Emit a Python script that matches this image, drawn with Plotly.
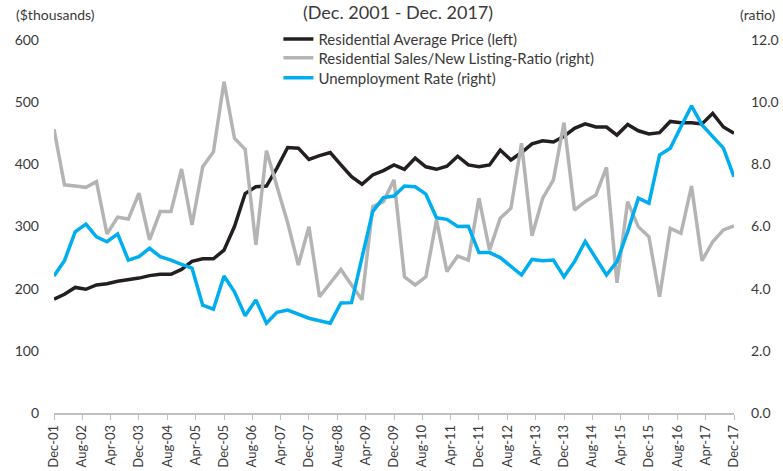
import pandas as pd
import plotly.graph_objects as go

# quarterly observations, Dec-2001 .. Dec-2017
dates = pd.date_range(start="2001-12-01", periods=65, freq="3MS")

avg_price = [183, 191, 202, 199, 206, 208, 212, 214, 217, 221, 223, 223, 231,
             244, 248, 248, 262, 300, 353, 364, 365, 394, 427, 426, 408, 414,
             419, 399, 380, 368, 383, 390, 399, 392, 410, 396, 392, 397, 413,
             399, 396, 399, 423, 407, 419, 433, 438, 436, 445, 458, 465, 460,
             460, 447, 464, 454, 449, 451, 469, 467, 467, 465, 482, 460, 450]

snlr = [9.13, 7.34, 7.30, 7.26, 7.44, 5.76, 6.30, 6.24, 7.07, 5.57, 6.48, 6.48, 7.85,
        6.05, 7.92, 8.40, 10.66, 8.84, 8.48, 5.41, 8.44, 7.30, 6.12, 4.76, 5.99, 3.74,
        4.17, 4.62, 4.12, 3.64, 6.64, 6.80, 7.50, 4.38, 4.12, 4.38, 6.21, 4.55, 5.05,
        4.92, 6.91, 5.24, 6.27, 6.59, 8.68, 5.70, 6.91, 7.50, 9.34, 6.53, 6.80, 7.01,
        7.90, 4.19, 6.80, 5.99, 5.67, 3.74, 5.94, 5.78, 7.30, 4.90, 5.51, 5.89, 6.02]

unemp = [4.41, 4.90, 5.83, 6.08, 5.67, 5.51, 5.76, 4.92, 5.03, 5.30, 5.03, 4.92, 4.78,
         4.66, 3.47, 3.34, 4.41, 3.90, 3.13, 3.64, 2.89, 3.24, 3.31, 3.17, 3.05, 2.97,
         2.89, 3.54, 3.55, 5.00, 6.48, 6.93, 6.98, 7.30, 7.28, 7.04, 6.28, 6.23, 6.00,
         6.01, 5.16, 5.16, 5.00, 4.72, 4.44, 4.94, 4.90, 4.92, 4.38, 4.87, 5.52, 4.98,
         4.44, 4.87, 5.83, 6.91, 6.75, 8.30, 8.52, 9.21, 9.88, 9.27, 8.91, 8.52, 7.60]

FONT = "Lato"
TXT = "#3a3a3a"

fig = go.Figure()
fig.add_trace(go.Scatter(x=dates, y=avg_price, mode="lines", name="Residential Average Price (left)",
                         line=dict(color="#231f20", width=3.5), yaxis="y", legend="legend"))
fig.add_trace(go.Scatter(x=dates, y=snlr, mode="lines", name="Residential Sales/New Listing-Ratio (right)",
                         line=dict(color="#b4b4b4", width=3.5), yaxis="y2", legend="legend2"))
fig.add_trace(go.Scatter(x=dates, y=unemp, mode="lines", name="Unemployment Rate (right)",
                         line=dict(color="#00aeef", width=3.5), yaxis="y2", legend="legend3"))

# one legend per entry so the rows sit 20px apart like the original
leg = dict(x=0.33, xanchor="left", yanchor="middle", bgcolor="rgba(0,0,0,0)",
           font=dict(size=15), itemwidth=30)

fig.update_layout(
    width=783, height=471,
    showlegend=True,
    margin=dict(l=54, r=49, t=40, b=58, autoexpand=False),
    paper_bgcolor="white", plot_bgcolor="white",
    font=dict(family=FONT, size=14, color=TXT),
    xaxis=dict(range=["2001-12-01", "2017-12-01"], tick0="2001-12-01", dtick="M8",
               tickformat="%b-%y", tickangle=-90, showgrid=False, zeroline=False,
               showline=True, linecolor="#bfbfbf", linewidth=1.5,
               ticks="outside", ticklen=5, tickcolor="#bfbfbf",
               tickfont=dict(size=13)),
    yaxis=dict(range=[0, 600], tickvals=[0, 100, 200, 300, 400, 500, 600],
               showgrid=False, zeroline=False, showline=False, ticks="",
               ticklabelstandoff=14),
    yaxis2=dict(range=[0, 12], tickvals=[0, 2, 4, 6, 8, 10, 12], tickformat=".1f",
                overlaying="y", side="right", showgrid=False, zeroline=False,
                showline=False, ticks="", ticklabelstandoff=16),
    legend=dict(leg, y=1.046, yanchor="top"),
    legend2=dict(leg, y=0.952),
    legend3=dict(leg, y=0.898),
    annotations=[
        dict(text="(Dec. 2001 - Dec. 2017)", xref="paper", yref="paper",
             x=0.506, y=1.074, xanchor="center", yanchor="middle",
             showarrow=False, font=dict(size=18)),
        dict(text="($thousands)", xref="paper", yref="paper",
             x=-0.059, y=1.068, xanchor="left", yanchor="middle",
             showarrow=False, font=dict(size=14)),
        dict(text="(ratio)", xref="paper", yref="paper",
             x=1.065, y=1.068, xanchor="right", yanchor="middle",
             showarrow=False, font=dict(size=14)),
    ],
)

fig.write_html("out.html", config={"displayModeBar": False},
               post_script="document.body.style.margin='0';")
